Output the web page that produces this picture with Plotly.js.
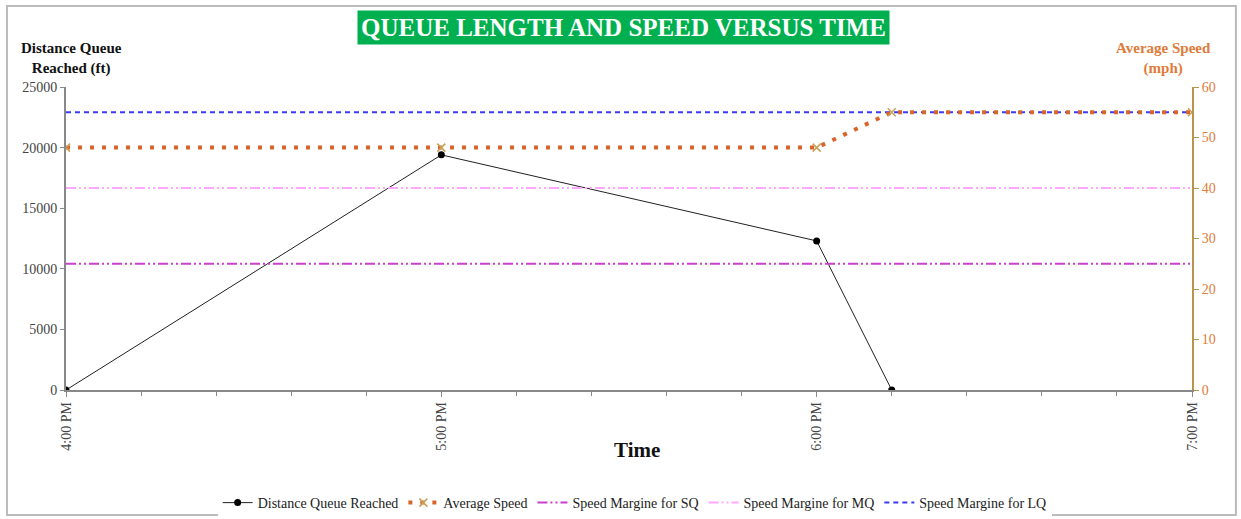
<!DOCTYPE html>
<html>
<head>
<meta charset="utf-8">
<script src="https://cdn.plot.ly/plotly-3.0.1.min.js"></script>
<style>html,body{margin:0;padding:0;background:#fff;}#chart{width:1241px;height:519px;}</style>
</head>
<body>
<div id="chart"></div>
<script>
// Data
const queueTimes = ["2000-01-01 16:00", "2000-01-01 17:00", "2000-01-01 18:00", "2000-01-01 18:12"];
const queueDistance = [0, 19400, 12300, 0];

const speedTimes = ["2000-01-01 16:00", "2000-01-01 17:00", "2000-01-01 18:00", "2000-01-01 18:12", "2000-01-01 19:00"];
const averageSpeed = [48, 48, 48, 55, 55];

const marginTimes = ["2000-01-01 16:00", "2000-01-01 19:00"];
const marginSQ = [25, 25];
const marginMQ = [40, 40];
const marginLQ = [55, 55];

const seriesNames = ["Distance Queue Reached", "Average Speed", "Speed Margine for SQ", "Speed Margine for MQ", "Speed Margine for LQ"];

const serif = "Liberation Serif, Times New Roman, serif";

const traces = [
  {x: marginTimes, y: marginSQ, yaxis: "y2", name: seriesNames[2], mode: "lines", legendrank: 3,
   line: {color: "#CC3FCC", width: 2, dash: "10px,3px,2px,3px,2px,3px"}},
  {x: marginTimes, y: marginMQ, yaxis: "y2", name: seriesNames[3], mode: "lines", legendrank: 4,
   line: {color: "#FFA8FF", width: 2, dash: "10px,3px,2px,3px,2px,3px"}},
  {x: marginTimes, y: marginLQ, yaxis: "y2", name: seriesNames[4], mode: "lines", legendrank: 5,
   line: {color: "#3B3BF5", width: 2, dash: "5px,4px"}},
  {x: speedTimes, y: averageSpeed, yaxis: "y2", name: seriesNames[1], mode: "lines+markers", legendrank: 2,
   line: {color: "#D8642A", width: 4, dash: "4px,8px"},
   marker: {symbol: "x-thin", size: 8, line: {color: "#C9A055", width: 1.5}, color: "#C9A055"}},
  {x: queueTimes, y: queueDistance, yaxis: "y", name: seriesNames[0], mode: "lines+markers", legendrank: 1,
   line: {color: "#222222", width: 1},
   marker: {symbol: "circle", size: 7, color: "#000000"}}
];

const layout = {
  width: 1241, height: 519,
  margin: {l: 66, r: 49, t: 87, b: 129, autoexpand: false},
  paper_bgcolor: "#ffffff", plot_bgcolor: "#ffffff",
  showlegend: true,
  legend: {orientation: "h", x: 0.505, xanchor: "center", y: -0.373, yanchor: "middle",
           font: {family: serif, size: 14, color: "#222"}, traceorder: "normal",
           itemwidth: 30},
  xaxis: {
    type: "date", range: ["2000-01-01 16:00", "2000-01-01 19:00"],
    dtick: 3600000, tick0: "2000-01-01 16:00", tickformat: "%-I:%M %p",
    tickangle: -90, ticks: "outside", ticklen: 5, tickcolor: "#888",
    minor: {dtick: 720000, ticks: "outside", ticklen: 4, tickcolor: "#888"},
    showline: true, linecolor: "#888", linewidth: 1.5, showgrid: false, zeroline: false,
    tickfont: {family: serif, size: 14, color: "#444"},
    automargin: false
  },
  yaxis: {
    range: [0, 25000], dtick: 5000, tickformat: "d", ticks: "outside", ticklen: 4, tickcolor: "#888",
    showline: true, linecolor: "#888", linewidth: 2, showgrid: false, zeroline: false,
    tickfont: {family: serif, size: 14, color: "#444"}, automargin: false
  },
  yaxis2: {
    range: [0, 60], dtick: 10, overlaying: "y", side: "right", ticks: "outside", ticklen: 5,
    tickcolor: "#B8954A", showline: true, linecolor: "#B8954A", linewidth: 2,
    showgrid: false, zeroline: false, automargin: false,
    tickfont: {family: serif, size: 14, color: "#E07B39"}
  },
  annotations: [
    {text: "<b>QUEUE LENGTH AND SPEED VERSUS TIME</b>", xref: "paper", yref: "paper",
     x: 0.495, y: 1.195, xanchor: "center", yanchor: "middle", showarrow: false,
     bgcolor: "#00B050", borderpad: 3,
     font: {family: serif, size: 25, color: "#ffffff"}},
    {text: "<b>Distance Queue<br>Reached (ft)</b>", xref: "paper", yref: "paper",
     x: 0.005, y: 1.028, xanchor: "center", yanchor: "bottom", showarrow: false, align: "center",
     font: {family: serif, size: 15, color: "#111"}},
    {text: "<b>Average Speed<br>(mph)</b>", xref: "paper", yref: "paper",
     x: 0.975, y: 1.028, xanchor: "center", yanchor: "bottom", showarrow: false, align: "center",
     font: {family: serif, size: 15, color: "#E07B39"}},
    {text: "<b>Time</b>", xref: "paper", yref: "paper",
     x: 0.507, y: -0.198, xanchor: "center", yanchor: "middle", showarrow: false,
     font: {family: serif, size: 21, color: "#111"}}
  ],
  shapes: [
    {type: "rect", xref: "paper", yref: "paper", x0: -0.0524, x1: 1.039, y0: -0.4125, y1: 1.267,
     line: {color: "#BBBBBB", width: 2}, fillcolor: "rgba(0,0,0,0)"}
  ]
};

Plotly.newPlot("chart", traces, layout, {displayModeBar: false, staticPlot: true});
</script>
</body>
</html>
